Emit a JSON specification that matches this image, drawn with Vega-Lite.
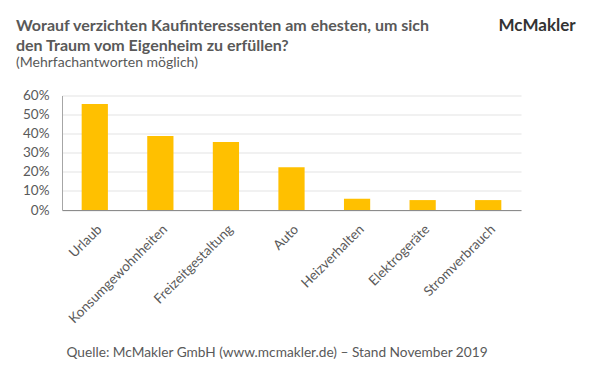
{
  "$schema": "https://vega.github.io/schema/vega-lite/v6.json",
  "autosize": "none",
  "width": 459,
  "height": 114.5,
  "padding": {"left": 62, "top": 95.5, "right": 70, "bottom": 163},
  "background": "white",
  "config": {
    "font": "Lato",
    "view": {"stroke": null}
  },
  "title": {
    "text": ["Worauf verzichten Kaufinteressenten am ehesten, um sich", "den Traum vom Eigenheim zu erfüllen?"],
    "subtitle": "(Mehrfachantworten möglich)",
    "anchor": "start",
    "frame": "group",
    "dx": -46,
    "fontSize": 16,
    "fontWeight": "bold",
    "color": "#595959",
    "lineHeight": 20,
    "subtitleFontSize": 14,
    "subtitleColor": "#595959",
    "subtitlePadding": 2,
    "offset": -53
  },
  "data": {
    "values": [
      {"kategorie": "Urlaub", "anteil": 0.555},
      {"kategorie": "Konsumgewohnheiten", "anteil": 0.388},
      {"kategorie": "Freizeitgestaltung", "anteil": 0.356},
      {"kategorie": "Auto", "anteil": 0.224},
      {"kategorie": "Heizverhalten", "anteil": 0.059},
      {"kategorie": "Elektrogeräte", "anteil": 0.052},
      {"kategorie": "Stromverbrauch", "anteil": 0.052}
    ]
  },
  "mark": {"type": "bar", "color": "#FFC000"},
  "encoding": {
    "x": {
      "field": "kategorie",
      "type": "nominal",
      "sort": null,
      "scale": {"paddingInner": 0.6, "paddingOuter": 0.3},
      "axis": {
        "labelAngle": -45,
        "labelFontSize": 13.5,
        "labelColor": "#595959",
        "labelPadding": 12,
        "ticks": false,
        "domainColor": "#8C8C8C",
        "title": "Quelle: McMakler GmbH (www.mcmakler.de) – Stand November 2019",
        "titleFontSize": 13.7,
        "titleFontWeight": "normal",
        "titleColor": "#595959",
        "titleX": 4,
        "titleY": 146,
        "titleAlign": "left",
        "titleBaseline": "alphabetic"
      }
    },
    "y": {
      "field": "anteil",
      "type": "quantitative",
      "scale": {"domain": [0, 0.6], "nice": false},
      "axis": {
        "values": [0, 0.1, 0.2, 0.3, 0.4, 0.5, 0.6],
        "format": ".0%",
        "labelFontSize": 13.5,
        "labelColor": "#595959",
        "labelPadding": 13,
        "ticks": false,
        "domainColor": "#A6A6A6",
        "gridColor": "#E3E3E3",
        "title": "McMakler",
        "titleAngle": 0,
        "titleX": 436,
        "titleY": -64.8,
        "titleAlign": "left",
        "titleBaseline": "alphabetic",
        "titleFontSize": 17,
        "titleFontWeight": "bold",
        "titleColor": "#333333"
      }
    }
  }
}
